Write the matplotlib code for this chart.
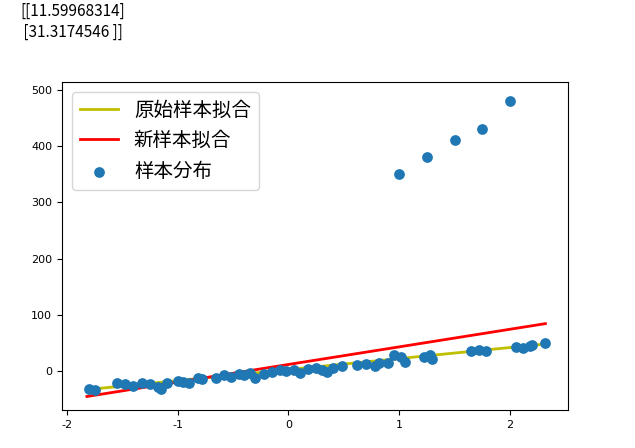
import numpy as np
import matplotlib.pyplot as plt
from matplotlib import font_manager

# find an installed sans CJK font
names = sorted({f.name for f in font_manager.fontManager.ttflist})
cjk = [n for n in names if 'CJK' in n and 'Sans' in n]
cjk_name = next((n for n in cjk if n.endswith('SC')), cjk[0] if cjk else 'DejaVu Sans')
plt.rcParams['font.family'] = ['DejaVu Sans', cjk_name]
plt.rcParams['axes.unicode_minus'] = False

# sample points
x_pts = [-1.80, -1.75, -1.55, -1.48, -1.40, -1.32, -1.25, -1.18, -1.15, -1.10,
         -1.00, -0.95, -0.90, -0.82, -0.78, -0.65, -0.58, -0.52, -0.45, -0.40,
         -0.35, -0.30, -0.22, -0.15, -0.08, -0.02, 0.05, 0.10, 0.18, 0.25,
         0.30, 0.35, 0.40, 0.48, 0.62, 0.70, 0.78, 0.82, 0.90, 0.95,
         1.02, 1.05, 1.22, 1.28, 1.30, 1.65, 1.72, 1.78, 2.05, 2.12,
         2.18, 2.20, 2.32]
y_pts = [-32, -33, -22, -24, -26, -22, -24, -28, -32, -22,
         -18, -20, -22, -12, -14, -12, -8, -10, -6, -8,
         -4, -12, -6, -2, 2, 0, 2, -4, 4, 6,
         2, -2, 6, 8, 10, 12, 8, 14, 14, 28,
         24, 16, 24, 28, 22, 36, 38, 36, 42, 40,
         44, 46, 50]
x_new = [1.0, 1.25, 1.5, 1.75, 2.0]
y_new = [350, 380, 410, 430, 480]

line_x = [-1.82, 2.32]
orig_coef = [19.6, 2.5]   # slope, intercept of original fit
new_coef = [31.3, 11.6]   # slope, intercept of new fit

fig = plt.figure(figsize=(6.35, 4.48), dpi=100)
ax = fig.add_axes([62 / 635, 38 / 448, 506 / 635, 328 / 448])

fig.text(20 / 635, 1 - 22 / 448, "[[11.59968314]\n [31.3174546 ]]",
         family=cjk_name, fontsize=11, va='center', linespacing=1.3)

lx = np.array(line_x)
ax.plot(lx, orig_coef[0] * lx + orig_coef[1], color='y', lw=2, label='原始样本拟合')
ax.plot(lx, new_coef[0] * lx + new_coef[1], color='r', lw=2, label='新样本拟合')
ax.scatter(x_pts + x_new, y_pts + y_new, s=45, color='#1f77b4', label='样本分布', zorder=3)

ax.set_xlim(-2.045, 2.524)
ax.set_ylim(-69.4, 514)
ax.set_xticks([-2, -1, 0, 1, 2])
ax.set_yticks([0, 100, 200, 300, 400, 500])
ax.tick_params(labelsize=8)
ax.legend(loc='upper left', fontsize=14, handlelength=2, prop={'family': cjk_name, 'size': 14})

fig.savefig('out.png', dpi=100)
